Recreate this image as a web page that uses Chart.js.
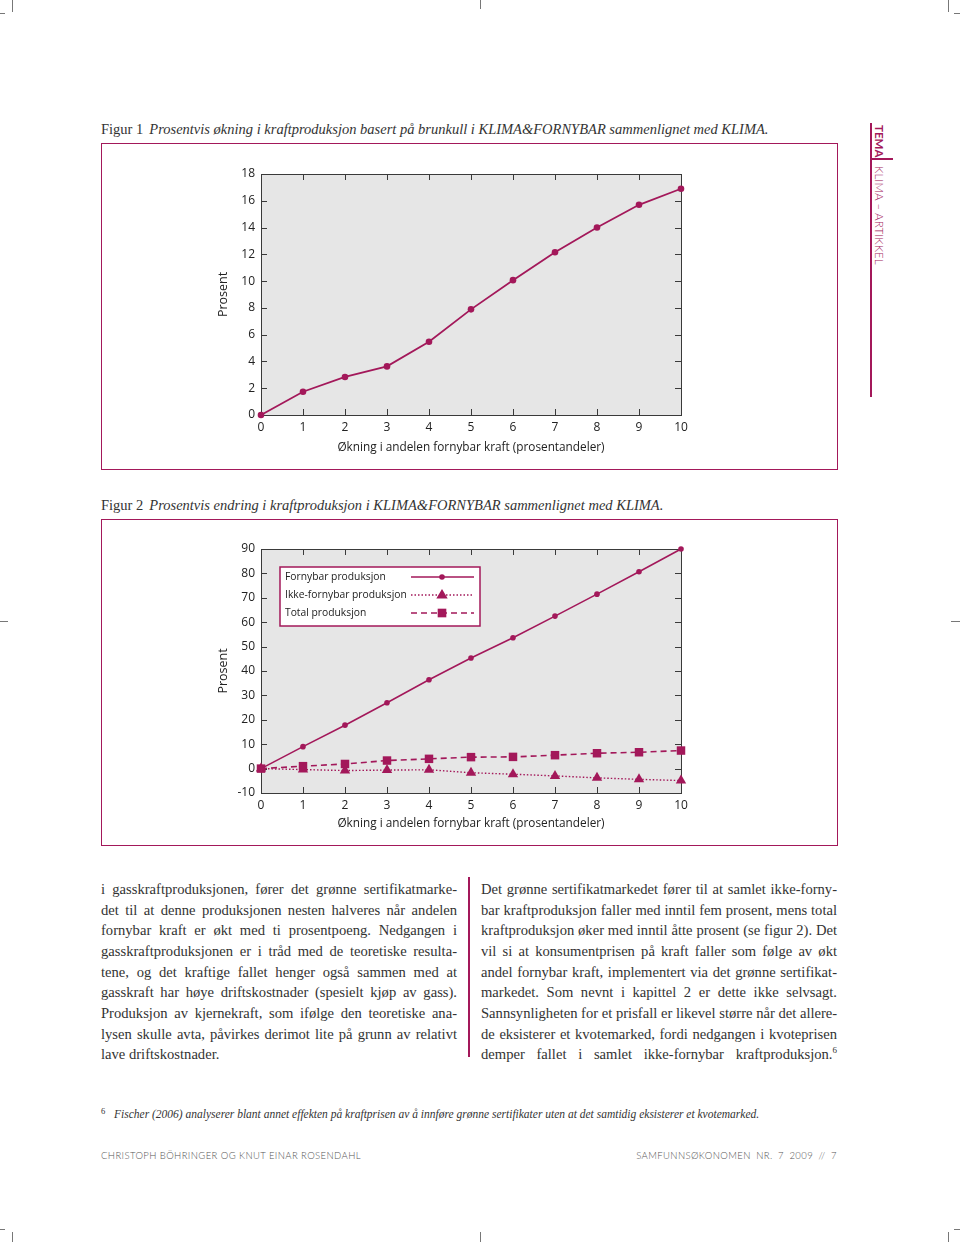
<!DOCTYPE html>
<html>
<head>
<meta charset="utf-8">
<script src="https://cdn.jsdelivr.net/npm/chart.js@4"></script>
<style>
  body { margin: 0; background: #fff; }
  #page { position: relative; width: 960px; height: 1242px; overflow: hidden; color: #2a2a2a; }
  .abs { position: absolute; }
  .frame { position: absolute; border: 1.5px solid #a3185a; box-sizing: border-box; }
  .cap { position: absolute; left: 101px; font-family: "Liberation Serif", serif; font-size: 14.5px; white-space: nowrap; color: #333; }
  .cap i { margin-left: 6px; }
  .col { position: absolute; width: 356px; font-family: "Liberation Serif", serif; font-size: 14.6px; color: #333; }
  .col div { height: 20.67px; line-height: 20.67px; white-space: nowrap; text-align: justify; text-align-last: justify; }
  .col div.last { text-align-last: left; }
  .mark { position: absolute; background: #777; }
  .foot { position: absolute; top: 1150px; font-family: Lato, sans-serif; font-weight: 300; font-size: 9.5px; letter-spacing: 0.4px; color: #555; white-space: nowrap; }
</style>
</head>
<body>
<div id="page">
  <!-- crop marks -->
  <div class="mark" style="left:12px;top:0;width:1px;height:12px"></div>
  <div class="mark" style="left:480px;top:0;width:1px;height:9px"></div>
  <div class="mark" style="left:948px;top:0;width:1px;height:12px"></div>
  <div class="mark" style="left:0;top:13px;width:5px;height:1px"></div>
  <div class="mark" style="left:954px;top:13px;width:6px;height:1px"></div>
  <div class="mark" style="left:0;top:621px;width:8px;height:1px"></div>
  <div class="mark" style="left:951px;top:621px;width:9px;height:1px"></div>
  <div class="mark" style="left:0;top:1229px;width:5px;height:1px"></div>
  <div class="mark" style="left:954px;top:1229px;width:6px;height:1px"></div>
  <div class="mark" style="left:12px;top:1232px;width:1px;height:10px"></div>
  <div class="mark" style="left:480px;top:1232px;width:1px;height:10px"></div>
  <div class="mark" style="left:948px;top:1232px;width:1px;height:10px"></div>

  <!-- side tab -->
  <div class="abs" style="left:870px;top:123px;width:1.5px;height:274px;background:#a3185a"></div>
  <div class="abs" style="left:870px;top:158px;width:23px;height:1.5px;background:#a3185a"></div>
  <div class="abs" style="left:873px;top:125px;writing-mode:vertical-rl;font-family:Lato,sans-serif;font-size:11.5px;letter-spacing:0px;color:#a3185a;white-space:nowrap;font-weight:700">TEMA</div>
  <div class="abs" style="left:873px;top:166px;writing-mode:vertical-rl;font-family:Lato,sans-serif;font-size:11.5px;letter-spacing:0.1px;color:#a3185a;white-space:nowrap;font-weight:300">KLIMA – ARTIKKEL</div>

  <div class="cap" style="top:121px">Figur 1<i>Prosentvis økning i kraftproduksjon basert på brunkull i KLIMA&amp;FORNYBAR sammenlignet med KLIMA.</i></div>
  <div class="frame" style="left:101px;top:143px;width:737px;height:327px"></div>
  <canvas id="fig1" class="abs" style="left:200px;top:160px" width="500" height="300"></canvas>

  <div class="cap" style="top:497px">Figur 2<i>Prosentvis endring i kraftproduksjon i KLIMA&amp;FORNYBAR sammenlignet med KLIMA.</i></div>
  <div class="frame" style="left:101px;top:519px;width:737px;height:327px"></div>
  <canvas id="fig2" class="abs" style="left:200px;top:530px" width="500" height="310"></canvas>

  <div class="col" style="left:101px;top:879px">
    <div>i gasskraftproduksjonen, fører det grønne sertifikatmarke-</div>
    <div>det til at denne produksjonen nesten halveres når andelen</div>
    <div>fornybar kraft er økt med ti prosentpoeng. Nedgangen i</div>
    <div>gasskraftproduksjonen er i tråd med de teoretiske resulta-</div>
    <div>tene, og det kraftige fallet henger også sammen med at</div>
    <div>gasskraft har høye driftskostnader (spesielt kjøp av gass).</div>
    <div>Produksjon av kjernekraft, som ifølge den teoretiske ana-</div>
    <div>lysen skulle avta, påvirkes derimot lite på grunn av relativt</div>
    <div class="last">lave driftskostnader.</div>
  </div>
  <div class="abs" style="left:468px;top:877px;width:1.5px;height:180px;background:#a3185a"></div>
  <div class="col" style="left:481px;top:879px">
    <div>Det grønne sertifikatmarkedet fører til at samlet ikke-forny-</div>
    <div>bar kraftproduksjon faller med inntil fem prosent, mens total</div>
    <div>kraftproduksjon øker med inntil åtte prosent (se figur 2). Det</div>
    <div>vil si at konsumentprisen på kraft faller som følge av økt</div>
    <div>andel fornybar kraft, implementert via det grønne sertifikat-</div>
    <div>markedet. Som nevnt i kapittel 2 er dette ikke selvsagt.</div>
    <div>Sannsynligheten for et prisfall er likevel større når det allere-</div>
    <div>de eksisterer et kvotemarked, fordi nedgangen i kvoteprisen</div>
    <div>demper fallet i samlet ikke-fornybar kraftproduksjon.<sup style="font-size:9px;line-height:0">6</sup></div>
  </div>

  <div class="abs" style="left:101px;top:1106px;font-family:'Liberation Serif',serif;font-size:8.5px;color:#333">6</div>
  <div class="abs" style="left:114px;top:1108px;font-family:'Liberation Serif',serif;font-style:italic;font-size:11.5px;color:#333;white-space:nowrap">Fischer (2006) analyserer blant annet effekten på kraftprisen av å innføre grønne sertifikater uten at det samtidig eksisterer et kvotemarked.</div>

  <div class="foot" style="left:101px">CHRISTOPH BÖHRINGER OG KNUT EINAR ROSENDAHL</div>
  <div class="foot" style="right:123px;word-spacing:2.5px">SAMFUNNSØKONOMEN NR. 7 2009 // 7</div>
</div>

<script>
// verdier lest av figurene
const xValues = [0, 1, 2, 3, 4, 5, 6, 7, 8, 9, 10];
const brunkull = [0, 1.74, 2.84, 3.63, 5.47, 7.89, 10.07, 12.16, 14.0, 15.7, 16.9];
const fornybar = [0, 9.0, 17.8, 27.0, 36.4, 45.3, 53.6, 62.5, 71.5, 80.7, 90.0];
const ikkeFornybar = [0, -0.4, -0.8, -0.6, -0.5, -1.7, -2.3, -3.0, -3.8, -4.4, -4.9];
const totalProd = [0, 1.0, 1.9, 3.3, 4.0, 4.7, 4.8, 5.5, 6.3, 6.7, 7.4];
const legendLabels = ['Fornybar produksjon', 'Ikke-fornybar produksjon', 'Total produksjon'];
const xTitle = 'Økning i andelen fornybar kraft (prosentandeler)';
const yTitle = 'Prosent';

const MAGENTA = '#a3185a';
const FONT = 'Open Sans';

const toPoints = (ys) => ys.map((y, i) => ({x: xValues[i], y: y}));

// grå bakgrunn, ramme og innvendige tick-streker (gnuplot-stil)
const plotFrame = {
    id: 'plotFrame',
    beforeDatasetsDraw(chart) {
        const {ctx, chartArea: a, scales} = chart;
        ctx.save();
        ctx.fillStyle = '#e6e6e6';
        ctx.fillRect(a.left, a.top, a.right - a.left, a.bottom - a.top);
        ctx.strokeStyle = '#3a3a3a';
        ctx.lineWidth = 1;
        ctx.beginPath();
        for (const t of scales.y.ticks) {
            const py = Math.round(scales.y.getPixelForValue(t.value)) + 0.5;
            ctx.moveTo(a.left, py); ctx.lineTo(a.left + 6, py);
            ctx.moveTo(a.right, py); ctx.lineTo(a.right - 6, py);
        }
        for (const t of scales.x.ticks) {
            const px = Math.round(scales.x.getPixelForValue(t.value)) + 0.5;
            ctx.moveTo(px, a.bottom); ctx.lineTo(px, a.bottom - 6);
            ctx.moveTo(px, a.top); ctx.lineTo(px, a.top + 6);
        }
        ctx.stroke();
        ctx.strokeRect(Math.round(a.left) + 0.5, Math.round(a.top) + 0.5, Math.round(a.right - a.left), Math.round(a.bottom - a.top));
        ctx.restore();
    }
};

// legende inne i plottet: tekst til venstre, linjeprøve til høyre
const insideLegend = {
    id: 'insideLegend',
    afterDatasetsDraw(chart) {
        if (!chart.options.plugins.insideLegend) return;
        const {ctx, chartArea: a} = chart;
        const bx = a.left + 19, by = a.top + 18, bw = 200, bh = 59;
        ctx.save();
        ctx.fillStyle = '#fff';
        ctx.fillRect(bx, by, bw, bh);
        ctx.strokeStyle = MAGENTA;
        ctx.lineWidth = 1.5;
        ctx.strokeRect(bx, by, bw, bh);
        chart.data.datasets.forEach((ds, i) => {
            const cy = by + 10 + i * 18;
            ctx.fillStyle = '#222';
            ctx.font = '10.3px "' + FONT + '"';
            ctx.textBaseline = 'middle';
            ctx.fillText(ds.label, bx + 5, cy);
            ctx.strokeStyle = ds.borderColor;
            ctx.lineWidth = ds.borderWidth;
            ctx.setLineDash(ds.borderDash || []);
            ctx.beginPath();
            ctx.moveTo(bx + 131, cy); ctx.lineTo(bx + 194, cy);
            ctx.stroke();
            ctx.setLineDash([]);
            ctx.fillStyle = MAGENTA;
            const mx = bx + 162, r = ds.pointRadius;
            ctx.beginPath();
            if (ds.pointStyle === 'triangle') {
                ctx.moveTo(mx, cy - r); ctx.lineTo(mx + r * 0.95, cy + r * 0.6); ctx.lineTo(mx - r * 0.95, cy + r * 0.6);
                ctx.closePath();
            } else if (ds.pointStyle === 'rect') {
                ctx.rect(mx - r * 0.72, cy - r * 0.72, r * 1.44, r * 1.44);
            } else {
                ctx.arc(mx, cy, r, 0, Math.PI * 2);
            }
            ctx.fill();
        });
        ctx.restore();
    }
};

function makeOptions(yMin, yMax, yStep, pad, axisH, titlePadBottom) {
    return {
        responsive: false,
        animation: false,
        layout: {padding: {top: pad, right: 19, left: 0, bottom: 0}},
        plugins: {legend: {display: false}, tooltip: {enabled: false}},
        scales: {
            x: {
                type: 'linear', min: 0, max: 10,
                ticks: {stepSize: 1, padding: 5, color: '#222', font: {family: FONT, size: 12}},
                grid: {display: false, drawTicks: false},
                border: {display: false},
                title: {display: true, text: xTitle, color: '#222', font: {family: FONT, size: 11.8}, padding: {top: 0, bottom: titlePadBottom}},
                afterFit: (s) => { s.height = axisH; }
            },
            y: {
                min: yMin, max: yMax,
                ticks: {stepSize: yStep, padding: 6, color: '#222', font: {family: FONT, size: 12}},
                grid: {display: false, drawTicks: false},
                border: {display: false},
                title: {display: true, text: yTitle, color: '#222', font: {family: FONT, size: 12.5}, padding: {top: 16, bottom: 0}},
                afterFit: (s) => { s.width = 61; }
            }
        }
    };
}

new Chart(document.getElementById('fig1'), {
    type: 'line',
    data: {
        datasets: [{
            label: 'Brunkull',
            data: toPoints(brunkull),
            borderColor: MAGENTA, backgroundColor: MAGENTA,
            borderWidth: 1.8, pointRadius: 3.3, pointBorderWidth: 0,
            tension: 0, clip: false
        }]
    },
    options: makeOptions(0, 18, 2, 14, 45, 5),
    plugins: [plotFrame]
});

const opts2 = makeOptions(-10, 90, 10, 19, 47, 9);
opts2.plugins.insideLegend = true;

new Chart(document.getElementById('fig2'), {
    type: 'line',
    data: {
        datasets: [{
            label: legendLabels[0],
            data: toPoints(fornybar),
            borderColor: MAGENTA, backgroundColor: MAGENTA,
            borderWidth: 1.6, pointRadius: 2.8, pointBorderWidth: 0, pointStyle: 'circle',
            tension: 0, clip: false
        }, {
            label: legendLabels[1],
            data: toPoints(ikkeFornybar),
            borderColor: MAGENTA, backgroundColor: MAGENTA,
            borderWidth: 1.4, borderDash: [1.5, 2], pointRadius: 6, pointBorderWidth: 0, pointStyle: 'triangle',
            tension: 0, clip: false
        }, {
            label: legendLabels[2],
            data: toPoints(totalProd),
            borderColor: MAGENTA, backgroundColor: MAGENTA,
            borderWidth: 1.6, borderDash: [6, 4], pointRadius: 6, pointBorderWidth: 0, pointStyle: 'rect',
            tension: 0, clip: false
        }]
    },
    options: opts2,
    plugins: [plotFrame, insideLegend]
});
</script>
</body>
</html>
